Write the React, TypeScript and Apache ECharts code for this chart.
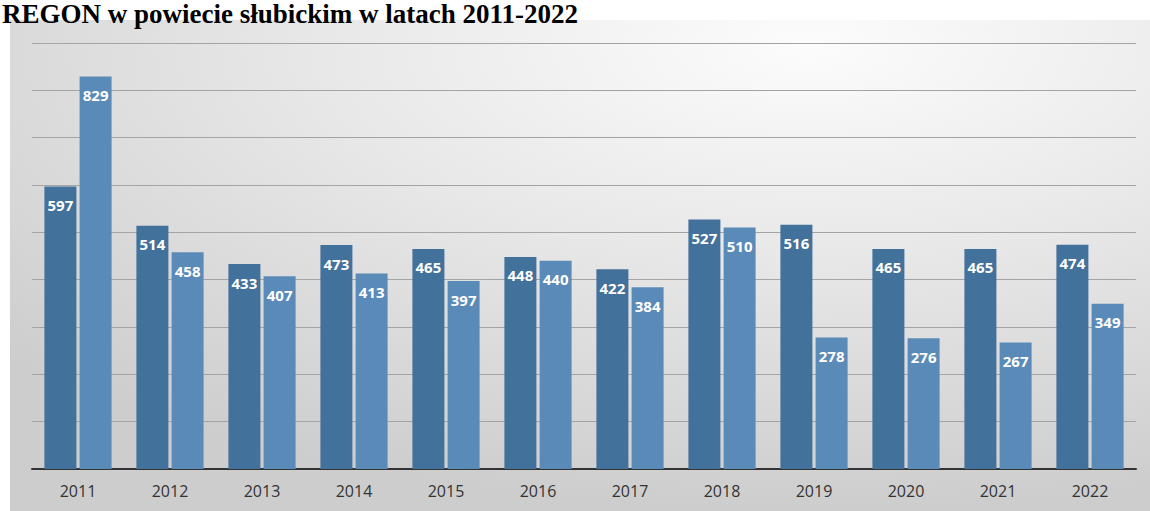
import React, { useEffect, useRef } from "react";
import * as echarts from "echarts";

const TITLE = "REGON w powiecie słubickim w latach 2011-2022";
const YEARS = ["2011", "2012", "2013", "2014", "2015", "2016", "2017", "2018", "2019", "2020", "2021", "2022"];
const SERIES_A = [597, 514, 433, 473, 465, 448, 422, 527, 516, 465, 465, 474];
const SERIES_B = [829, 458, 407, 413, 397, 440, 384, 510, 278, 276, 267, 349];
const Y_MAX = 900;
const Y_INTERVAL = 100;

export default function App() {
  const ref = useRef<HTMLDivElement>(null);
  useEffect(() => {
    if (!ref.current) return;
    const chart = echarts.init(ref.current, null, { renderer: "svg" });
    const label = {
      show: true,
      position: "insideTop",
      distance: 11,
      color: "#ffffff",
      fontSize: 15,
      fontWeight: "bold",
      fontFamily: "Open Sans",
    };
    chart.setOption({
      animation: false,
      backgroundColor: "#ffffff",
      graphic: [
        {
          type: "rect",
          z: -10,
          silent: true,
          shape: { x: 10, y: 20, width: 1140, height: 491 },
          style: {
            fill: new echarts.graphic.RadialGradient(0.7, 0.05, 0.95, [
              { offset: 0, color: "#fcfcfc" },
              { offset: 0.45, color: "#e8e8e8" },
              { offset: 1, color: "#cdcdcd" },
            ]),
          },
        },
        {
          type: "text",
          left: 2,
          top: 0,
          z: 10,
          style: {
            text: TITLE,
            font: "bold 27px 'Liberation Serif', serif",
            fill: "#000000",
          },
        },
      ],
      grid: { left: 32, right: 14, top: 43, bottom: 42 },
      xAxis: {
        type: "category",
        data: YEARS,
        axisLine: { lineStyle: { color: "#333333", width: 2 } },
        axisTick: { show: false },
        axisLabel: { color: "#333333", fontSize: 16, fontFamily: "Open Sans", margin: 14 },
      },
      yAxis: {
        type: "value",
        min: 0,
        max: Y_MAX,
        interval: Y_INTERVAL,
        axisLabel: { show: false },
        axisLine: { show: false },
        axisTick: { show: false },
        splitLine: { lineStyle: { color: "#a4a4a4", width: 1 } },
      },
      series: [
        {
          type: "bar",
          data: SERIES_A,
          barWidth: 32,
          barGap: "10%",
          itemStyle: { color: "#42719b" },
          label,
        },
        {
          type: "bar",
          data: SERIES_B,
          barWidth: 32,
          itemStyle: { color: "#5a8bb8" },
          label,
        },
      ],
    });
    return () => chart.dispose();
  }, []);
  return (
    <div
      ref={ref}
      style={{ position: "absolute", left: 0, top: 0, width: 1150, height: 511 }}
    />
  );
}
